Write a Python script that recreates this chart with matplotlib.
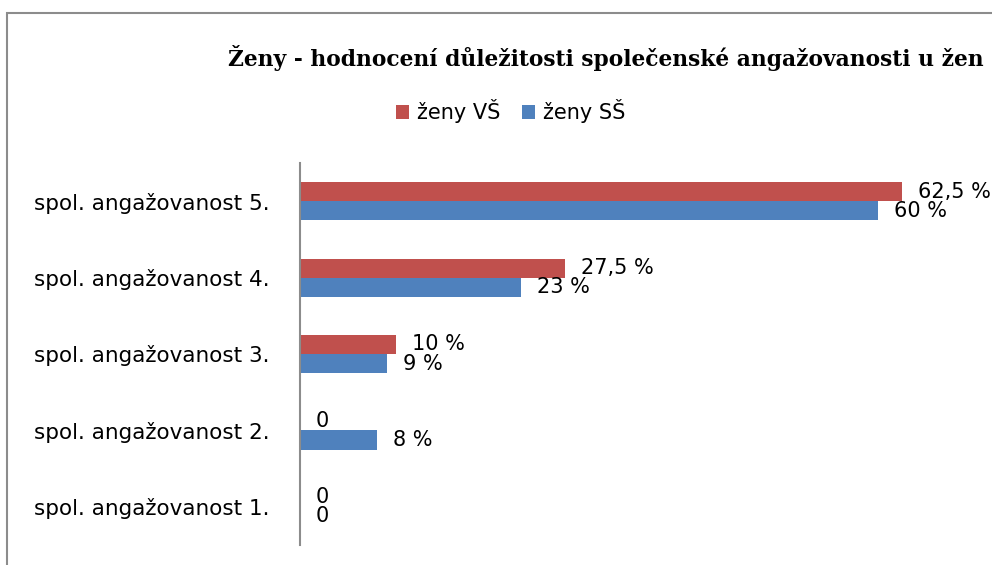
import matplotlib.pyplot as plt
from matplotlib.patches import Rectangle

# data
categories = ['spol. angažovanost 1.', 'spol. angažovanost 2.', 'spol. angažovanost 3.',
              'spol. angažovanost 4.', 'spol. angažovanost 5.']
zeny_vs = [0, 0, 10, 27.5, 62.5]
zeny_ss = [0, 8, 9, 23, 60]
labels_vs = ['0', '0', '10 %', '27,5 %', '62,5 %']
labels_ss = ['0', '8 %', '9 %', '23 %', '60 %']

red = '#C0504D'
blue = '#4F81BD'

fig = plt.figure(figsize=(9.92, 5.65), dpi=100)
W, H = 992, 565

# outer chart frame (runs off the right and bottom edges)
fig.patches.append(Rectangle((7 / W, -0.1), 1.2, (565 - 13) / H + 0.1,
                             transform=fig.transFigure, fill=False,
                             edgecolor='#8c8c8c', linewidth=1.5))

ax = fig.add_axes([300 / W, 20 / H, (W - 300) / W, (545 - 163) / H])
y = list(range(len(categories)))
h = 0.25
ax.barh([v + h / 2 for v in y], zeny_vs, height=h, color=red, label='ženy VŠ')
ax.barh([v - h / 2 for v in y], zeny_ss, height=h, color=blue, label='ženy SŠ')

for i in y:
    ax.annotate(labels_vs[i], (zeny_vs[i], i + h / 2), xytext=(16, 0),
                textcoords='offset pixels', va='center', ha='left', fontsize=15)
    ax.annotate(labels_ss[i], (zeny_ss[i], i - h / 2), xytext=(16, 0),
                textcoords='offset pixels', va='center', ha='left', fontsize=15)

ax.set_xlim(0, (W - 300) / 9.63)
ax.set_ylim(-0.5, len(categories) - 0.5)
ax.set_yticks(y)
ax.set_yticklabels(categories, fontsize=15.5)
ax.tick_params(axis='y', length=0, pad=22)
ax.set_xticks([])
for s in ['top', 'right', 'bottom']:
    ax.spines[s].set_visible(False)
ax.spines['left'].set_color('#8c8c8c')
ax.spines['left'].set_linewidth(1.5)

fig.text(228 / W, 1 - 58 / H, 'Ženy - hodnocení důležitosti společenské angažovanosti u žen',
         fontsize=15.7, fontweight='bold', family='DejaVu Serif', va='center', ha='left')

fig.legend(loc='center left', bbox_to_anchor=(377 / W, 1 - 111 / H), ncol=2,
           frameon=False, fontsize=15, handlelength=0.65, handleheight=0.65,
           handletextpad=0.35, columnspacing=1.05)

fig.savefig('out.png', dpi=100)
